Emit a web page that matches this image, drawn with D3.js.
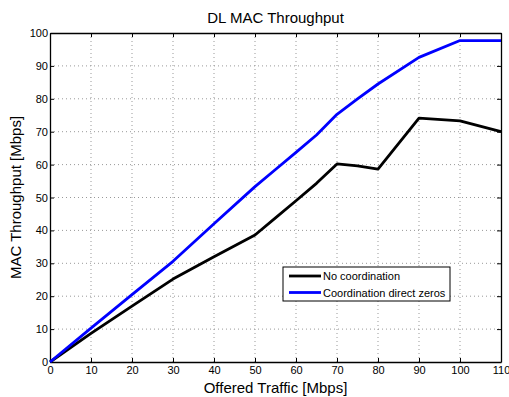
<!DOCTYPE html>
<html>
<head>
<meta charset="utf-8">
<script src="https://cdn.jsdelivr.net/npm/d3@7"></script>
<style>
  body { margin: 0; background: #fff; }
  svg text { font-family: "Liberation Sans", Arial, sans-serif; fill: #000; }
</style>
</head>
<body>
<div id="chart"></div>
<script>
// Data
var offered = [0, 10, 20, 30, 40, 50, 55, 60, 65, 70, 75, 80, 90, 100, 110];
var noCoord = [0, 8.7, 17, 25.2, 32, 38.6, 43.8, 49, 54.3, 60.2, 59.6, 58.6, 74.1, 73.3, 70];
var coordZeros = [0, 10.3, 20.5, 30.6, 42, 53.3, 58.5, 63.7, 69, 75.3, 80, 84.5, 92.6, 97.7, 97.7];
var xTicks = [0, 10, 20, 30, 40, 50, 60, 70, 80, 90, 100, 110];
var yTicks = [0, 10, 20, 30, 40, 50, 60, 70, 80, 90, 100];
var seriesNames = ["No coordination", "Coordination direct zeros"];
var seriesColors = ["#000000", "#0000ff"];

var margin = { top: 33, right: 8, bottom: 35, left: 50 },
    width = 509 - margin.left - margin.right,
    height = 397 - margin.top - margin.bottom;

var svg = d3.select("#chart")
    .append("svg")
    .attr("width", 509)
    .attr("height", 397);

var g = svg.append("g")
    .attr("transform", "translate(" + margin.left + "," + margin.top + ")");

var x = d3.scaleLinear().domain([0, 110]).range([0, width]);
var y = d3.scaleLinear().domain([0, 100]).range([height, 0]);

// grid
g.append("g").selectAll("line.gx")
    .data(xTicks.slice(1, -1))
    .enter().append("line")
    .attr("x1", function (d) { return x(d); })
    .attr("x2", function (d) { return x(d); })
    .attr("y1", 0).attr("y2", height)
    .attr("stroke", "#999").attr("stroke-width", 1)
    .attr("stroke-dasharray", "1,3");
g.append("g").selectAll("line.gy")
    .data(yTicks.slice(1, -1))
    .enter().append("line")
    .attr("y1", function (d) { return y(d); })
    .attr("y2", function (d) { return y(d); })
    .attr("x1", 0).attr("x2", width)
    .attr("stroke", "#999").attr("stroke-width", 1)
    .attr("stroke-dasharray", "1,3");

// axes, ticks inside like matlab
g.append("g")
    .attr("transform", "translate(0," + height + ")")
    .call(d3.axisBottom(x).tickValues(xTicks).tickSizeInner(-4).tickSizeOuter(0).tickPadding(4));
g.append("g")
    .call(d3.axisTop(x).tickValues(xTicks).tickSizeInner(-4).tickSizeOuter(0).tickFormat(""));
g.append("g")
    .call(d3.axisLeft(y).tickValues(yTicks).tickSizeInner(-4).tickSizeOuter(0).tickPadding(2));
g.append("g")
    .attr("transform", "translate(" + width + ",0)")
    .call(d3.axisRight(y).tickValues(yTicks).tickSizeInner(-4).tickSizeOuter(0).tickFormat(""));

g.selectAll(".domain").attr("stroke", "#000").attr("stroke-width", 1.3);
g.selectAll(".tick line").attr("stroke", "#000");
g.selectAll(".tick text").attr("font-size", "11px")
    .style("font-family", "'Liberation Sans', Arial, sans-serif");

// lines
var line = d3.line()
    .x(function (d) { return x(d[0]); })
    .y(function (d) { return y(d[1]); });

[noCoord, coordZeros].forEach(function (vals, i) {
    g.append("path")
        .datum(offered.map(function (o, j) { return [o, vals[j]]; }))
        .attr("fill", "none")
        .attr("stroke", seriesColors[i])
        .attr("stroke-width", 2.8)
        .attr("stroke-linejoin", "round")
        .attr("d", line);
});

// title and labels
svg.append("text")
    .attr("x", margin.left + width / 2).attr("y", 23)
    .attr("text-anchor", "middle").attr("font-size", "15px")
    .text("DL MAC Throughput");
svg.append("text")
    .attr("x", margin.left + width / 2).attr("y", 393)
    .attr("text-anchor", "middle").attr("font-size", "15px")
    .text("Offered Traffic [Mbps]");
svg.append("text")
    .attr("transform", "translate(21," + (margin.top + height / 2) + ") rotate(-90)")
    .attr("text-anchor", "middle").attr("font-size", "15px")
    .text("MAC Throughput [Mbps]");

// legend
var legend = svg.append("g").attr("transform", "translate(283,267)");
legend.append("rect")
    .attr("width", 167).attr("height", 34)
    .attr("fill", "#fff").attr("stroke", "#000").attr("stroke-width", 1);
seriesNames.forEach(function (name, i) {
    legend.append("line")
        .attr("x1", 6).attr("x2", 38)
        .attr("y1", 9 + i * 16.5).attr("y2", 9 + i * 16.5)
        .attr("stroke", seriesColors[i]).attr("stroke-width", 2.8);
    legend.append("text")
        .attr("x", 40).attr("y", 13 + i * 16.5)
        .attr("font-size", "11px")
        .text(name);
});
</script>
</body>
</html>
